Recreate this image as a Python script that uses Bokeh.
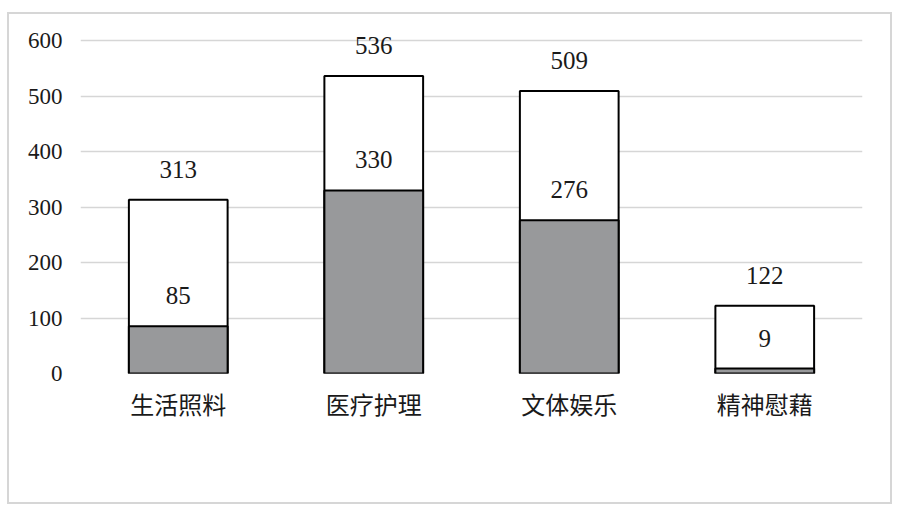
from bokeh.plotting import figure
from bokeh.models import ColumnDataSource, FixedTicker, LabelSet
from bokeh.embed import file_html
from bokeh.resources import INLINE

categories = ["生活照料", "医疗护理", "文体娱乐", "精神慰藉"]
totals = [313, 536, 509, 122]
subset = [85, 330, 276, 9]
y_ticks = [0, 100, 200, 300, 400, 500, 600]

src = ColumnDataSource(dict(
    cat=categories, total=totals, sub=subset,
    total_txt=[str(v) for v in totals], sub_txt=[str(v) for v in subset],
))

p = figure(x_range=categories, y_range=(0, 620), width=885, height=492,
           output_backend="svg", toolbar_location=None,
           min_border_left=71, min_border_right=32, min_border_top=15,
           min_border_bottom=133)
p.margin = (12, 0, 0, 7)
p.styles = {"border": "2px solid #d6d6d6", "box-sizing": "border-box"}
p.outline_line_color = None
p.background_fill_color = "white"
p.border_fill_color = "white"

p.vbar(x="cat", top="total", width=0.505, source=src, fill_color="white",
       line_color="black", line_width=2)
p.vbar(x="cat", top="sub", width=0.505, source=src, fill_color="#98999b",
       line_color="black", line_width=2)

p.add_layout(LabelSet(x="cat", y="total", text="total_txt", source=src,
                      text_align="center", text_baseline="bottom", y_offset=22,
                      text_font="Liberation Serif", text_font_size="25px",
                      text_color="#1a1a1a"))
p.add_layout(LabelSet(x="cat", y="sub", text="sub_txt", source=src,
                      text_align="center", text_baseline="bottom", y_offset=22,
                      text_font="Liberation Serif", text_font_size="25px",
                      text_color="#1a1a1a"))

p.yaxis.ticker = FixedTicker(ticks=y_ticks)
p.yaxis.axis_line_color = None
p.yaxis.major_tick_line_color = None
p.yaxis.minor_tick_line_color = None
p.yaxis.major_label_text_font = "Liberation Serif"
p.yaxis.major_label_text_font_size = "23px"
p.yaxis.major_label_text_color = "#1a1a1a"
p.yaxis.major_label_standoff = 12

p.xaxis.axis_line_color = None
p.xaxis.major_tick_line_color = None
p.xaxis.major_label_text_font = "Noto Sans CJK SC"
p.xaxis.major_label_text_font_size = "24px"
p.xaxis.major_label_text_color = "#1a1a1a"
p.xaxis.major_label_standoff = 6

p.xgrid.grid_line_color = None
p.ygrid.grid_line_color = "#d6d6d6"
p.ygrid.grid_line_width = 1.5
p.x_range.range_padding = 0

open("out.html", "w").write(file_html(p, INLINE))
